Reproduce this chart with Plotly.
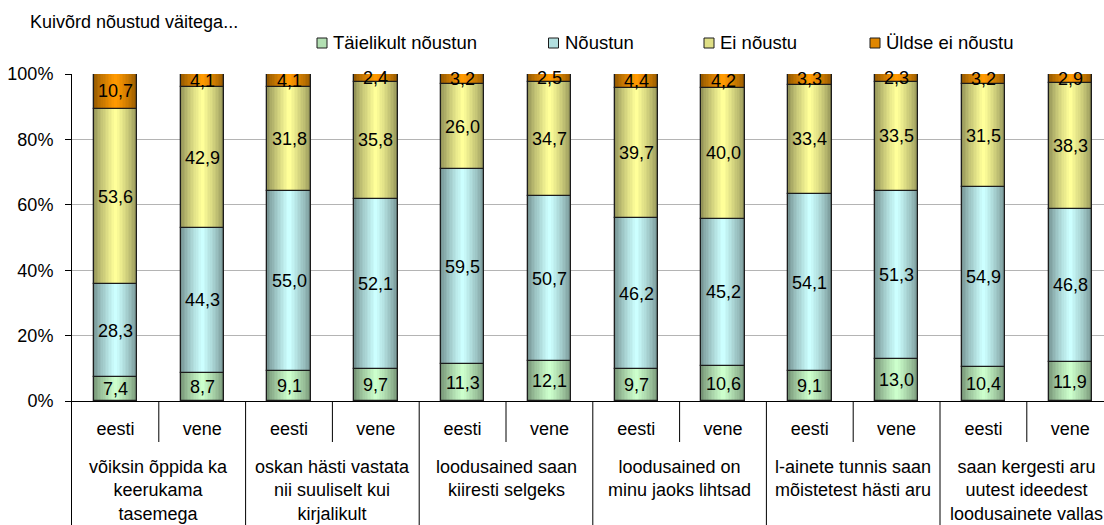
import plotly.graph_objects as go

# ---- data -------------------------------------------------------------
group_labels = [
    "võiksin õppida ka<br>keerukama<br>tasemega",
    "oskan hästi vastata<br>nii suuliselt kui<br>kirjalikult",
    "loodusained saan<br>kiiresti selgeks",
    "loodusained on<br>minu jaoks lihtsad",
    "l-ainete tunnis saan<br>mõistetest hästi aru",
    "saan kergesti aru<br>uutest ideedest<br>loodusainete vallas",
]
language_labels = ["eesti", "vene"]
series_names = ["Täielikult nõustun", "Nõustun", "Ei nõustu", "Üldse ei nõustu"]

taielikult_noustun = [7.4, 8.7, 9.1, 9.7, 11.3, 12.1, 9.7, 10.6, 9.1, 13.0, 10.4, 11.9]
noustun = [28.3, 44.3, 55.0, 52.1, 59.5, 50.7, 46.2, 45.2, 54.1, 51.3, 54.9, 46.8]
ei_noustu = [53.6, 42.9, 31.8, 35.8, 26.0, 34.7, 39.7, 40.0, 33.4, 33.5, 31.5, 38.3]
uldse_ei_noustu = [10.7, 4.1, 4.1, 2.4, 3.2, 2.5, 4.4, 4.2, 3.3, 2.3, 3.2, 2.9]

y_tick_values = [0, 20, 40, 60, 80, 100]
y_tick_labels = [f"{v}%" for v in y_tick_values]

chart_title = "Kuivõrd nõustud väitega..."

# ---- styling ----------------------------------------------------------
FONT = "Liberation Sans, Arial, Helvetica, sans-serif"
FONT_SIZE = 18
centre_colours = ["#CCFFCC", "#CCFFFF", "#FFFF99", "#FF9900"]
EDGE_FACTOR = 0.58       # darkness of the bar edges relative to the centre
N_LAYERS = 14            # steps of the horizontal (cylinder) shading
BAR_WIDTH = 0.5
OUTLINE = "#1c1c1c"

W, H = 1104, 525
M_L, M_R, M_T, M_B = 72, 0, 74, 124
PLOT_W = W - M_L - M_R
PLOT_H = H - M_T - M_B
CATEGORY_PX = 86.8       # pixel width of one category slot

series_values = [taielikult_noustun, noustun, ei_noustu, uldse_ei_noustu]
n_bars = len(taielikult_noustun)
x_pos = list(range(n_bars))
x_text = [language_labels[i % len(language_labels)] for i in x_pos]

# 100 % stacking: each bar is normalised to its own total
totals = [sum(s[i] for s in series_values) for i in x_pos]
shares = [[v / totals[i] * 100 for i, v in enumerate(s)] for s in series_values]
bases = []
running = [0.0] * n_bars
for sh in shares:
    bases.append(running[:])
    running = [r + v for r, v in zip(running, sh)]


def hex_rgb(h):
    h = h.lstrip("#")
    return tuple(int(h[i:i + 2], 16) for i in (0, 2, 4))


def mix(a, b, t):
    return "rgb({},{},{})".format(*[round(a[i] + (b[i] - a[i]) * t) for i in range(3)])


fig = go.Figure()

for s_idx, (name, sh, base) in enumerate(zip(series_names, shares, bases)):
    centre = hex_rgb(centre_colours[s_idx])
    edge = tuple(c * EDGE_FACTOR for c in centre)
    # shaded fill: narrower and lighter layers towards the middle of the bar
    for k in range(N_LAYERS):
        t = k / (N_LAYERS - 1)
        fig.add_trace(go.Bar(
            x=x_pos, y=sh, base=base,
            width=BAR_WIDTH * (1 - k / N_LAYERS),
            marker=dict(color=mix(edge, centre, t ** 0.8), line=dict(width=0)),
            name=name, showlegend=False, hoverinfo="skip",
        ))
    # outline of each segment
    fig.add_trace(go.Bar(
        x=x_pos, y=sh, base=base, width=BAR_WIDTH,
        marker=dict(color="rgba(0,0,0,0)", line=dict(color=OUTLINE, width=1.3)),
        name=name, showlegend=False,
        customdata=[v for v in series_values[s_idx]],
        hovertemplate=name + ": %{customdata}<extra></extra>",
    ))

annotations = []

# value labels centred in every segment
for s_idx, (vals, sh, base) in enumerate(zip(series_values, shares, bases)):
    for i in x_pos:
        annotations.append(dict(
            x=i, y=base[i] + sh[i] / 2, xref="x", yref="y",
            text=f"{vals[i]:.1f}".replace(".", ","),
            showarrow=False, font=dict(family=FONT, size=FONT_SIZE, color="black"),
            xanchor="center", yanchor="middle",
        ))

# group labels under the eesti/vene row
for g, label in enumerate(group_labels):
    annotations.append(dict(
        x=2 * g + 0.5, y=-(455 - (M_T + PLOT_H)) / PLOT_H, xref="x", yref="paper",
        text=label, showarrow=False, align="center",
        font=dict(family=FONT, size=FONT_SIZE, color="black"),
        xanchor="center", yanchor="top",
    ))

# chart heading
annotations.append(dict(
    x=(28 - M_L) / PLOT_W, y=(M_T + PLOT_H - 22) / PLOT_H, xref="paper", yref="paper",
    text=chart_title, showarrow=False, xanchor="left", yanchor="middle",
    font=dict(family=FONT, size=FONT_SIZE, color="black"),
))

shapes = []

# legend: swatch + label for each series
legend_box_px = [322, 553.5, 709, 875]
for s_idx, name in enumerate(series_names):
    centre = hex_rgb(centre_colours[s_idx])
    edge = tuple(c * EDGE_FACTOR for c in centre)
    bx = (legend_box_px[s_idx] - M_L) / PLOT_W
    by = (M_T + PLOT_H - 43) / PLOT_H
    shapes.append(dict(
        type="rect", xref="paper", yref="paper",
        xsizemode="pixel", ysizemode="pixel", xanchor=bx, yanchor=by,
        x0=-5, x1=5, y0=-5, y1=5,
        fillcolor=mix(edge, centre, 0.7), line=dict(color=OUTLINE, width=1),
    ))
    annotations.append(dict(
        x=(legend_box_px[s_idx] + 9 - M_L) / PLOT_W, y=(M_T + PLOT_H - 42) / PLOT_H,
        xref="paper", yref="paper", text=name, showarrow=False,
        xanchor="left", yanchor="middle",
        font=dict(family=FONT, size=18.5, color="black"),
    ))

# category-axis dividers: short ones between languages, long ones between groups
row_depth = 41 / PLOT_H
full_depth = (M_B + 2) / PLOT_H
for g in range(len(group_labels)):
    shapes.append(dict(
        type="line", xref="x", yref="paper",
        x0=2 * g + 0.5, x1=2 * g + 0.5, y0=0, y1=-row_depth,
        line=dict(color="black", width=1),
    ))
    shapes.append(dict(
        type="line", xref="x", yref="paper",
        x0=2 * g + 1.5, x1=2 * g + 1.5, y0=0, y1=-full_depth,
        line=dict(color="black", width=1),
    ))
shapes.append(dict(
    type="line", xref="paper", yref="paper",
    x0=-0.5 / PLOT_W, x1=-0.5 / PLOT_W, y0=0, y1=-full_depth,
    line=dict(color="black", width=1),
))

fig.update_layout(
    width=W, height=H,
    margin=dict(l=M_L, r=M_R, t=M_T, b=M_B, autoexpand=False),
    paper_bgcolor="white", plot_bgcolor="white",
    barmode="overlay", bargap=0,
    showlegend=False,
    font=dict(family=FONT, size=FONT_SIZE, color="black"),
    xaxis=dict(
        range=[-0.5, -0.5 + PLOT_W / CATEGORY_PX],
        tickmode="array", tickvals=x_pos, ticktext=x_text,
        ticks="", showgrid=False, zeroline=False,
        showline=True, linecolor="black", linewidth=1,
        ticklabelstandoff=11,
        tickfont=dict(family=FONT, size=FONT_SIZE, color="black"),
    ),
    yaxis=dict(
        range=[0, 100], tickmode="array", tickvals=y_tick_values, ticktext=y_tick_labels,
        ticks="outside", ticklen=6, tickcolor="black", tickwidth=1,
        showline=True, linecolor="black", linewidth=1,
        showgrid=True, gridcolor="#b4b4b4", gridwidth=1, zeroline=False,
        ticklabelstandoff=8,
        tickfont=dict(family=FONT, size=FONT_SIZE, color="black"),
    ),
    annotations=annotations,
    shapes=shapes,
)

fig.write_html("out.html")
